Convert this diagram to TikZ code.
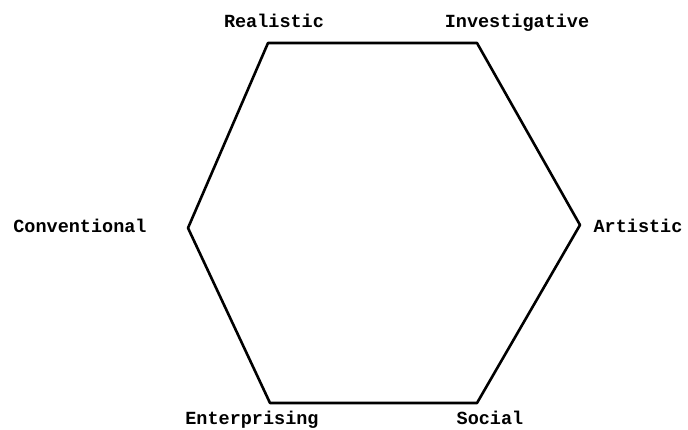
\documentclass[tikz,border=0pt]{standalone}
\usepackage{fontspec}
\setmonofont{Liberation Mono}
\begin{document}
\begin{tikzpicture}[x=1pt,y=-1pt,
  lbl/.style={font=\ttfamily\bfseries\fontsize{18.5}{20}\selectfont, inner sep=0pt, anchor=base},
  edge/.style={line width=2.6pt, line join=round}]
\useasboundingbox (0,0) rectangle (688,430);
\coordinate (R) at (268,43);
\coordinate (I) at (477,43);
\coordinate (A) at (580,225);
\coordinate (S) at (477,403);
\coordinate (E) at (270,403);
\coordinate (C) at (188,228);
\draw[edge] (R) -- (I) -- (A) -- (S) -- (E) -- (C) -- cycle;
\node[lbl] (lR) at (274,28) {Realistic};
\node[lbl] (lI) at (517,28) {Investigative};
\node[lbl] (lC) at (80,233) {Conventional};
\node[lbl] (lA) at (638,233) {Artistic};
\node[lbl] (lE) at (252,424) {Enterprising};
\node[lbl] (lS) at (490,424) {Social};
\end{tikzpicture}
\end{document}
